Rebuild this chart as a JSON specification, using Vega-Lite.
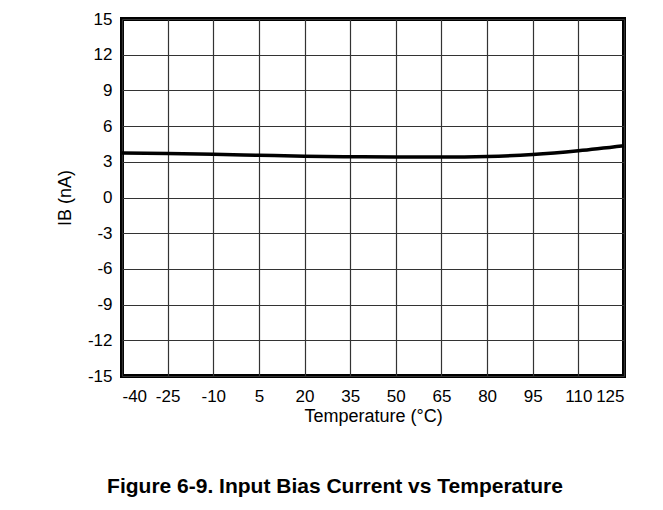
{
  "$schema": "https://vega.github.io/schema/vega-lite/v6.json",
  "width": 502,
  "height": 357,
  "autosize": {"type": "none"},
  "padding": {"left": 122, "top": 19, "right": 39, "bottom": 134},
  "background": "white",
  "data": {"values": [
    {"t": -40, "ib": 3.75},
    {"t": -25, "ib": 3.7},
    {"t": -10, "ib": 3.63},
    {"t": 5, "ib": 3.55},
    {"t": 20, "ib": 3.47},
    {"t": 35, "ib": 3.43},
    {"t": 50, "ib": 3.4},
    {"t": 65, "ib": 3.4},
    {"t": 80, "ib": 3.45},
    {"t": 95, "ib": 3.62},
    {"t": 110, "ib": 3.93},
    {"t": 125, "ib": 4.35}
  ]},
  "title": {
    "text": "Figure 6-9. Input Bias Current vs Temperature",
    "orient": "bottom",
    "anchor": "middle",
    "frame": "group",
    "dx": -38,
    "offset": 51,
    "font": "Liberation Sans",
    "fontSize": 21,
    "fontWeight": "bold",
    "color": "black"
  },
  "mark": {"type": "line", "color": "black", "strokeWidth": 3.5, "interpolate": "monotone"},
  "encoding": {
    "x": {
      "field": "t", "type": "quantitative",
      "scale": {"domain": [-40, 125], "nice": false, "zero": false},
      "axis": {
        "title": "Temperature (°C)",
        "values": [-40, -25, -10, 5, 20, 35, 50, 65, 80, 95, 110, 125],
        "labelExpr": "'' + datum.value",
        "ticks": false, "domain": false, "labelPadding": 12,
        "titlePadding": 3
      }
    },
    "y": {
      "field": "ib", "type": "quantitative",
      "scale": {"domain": [-15, 15], "nice": false, "zero": false},
      "axis": {
        "title": "IB (nA)",
        "values": [-15, -12, -9, -6, -3, 0, 3, 6, 9, 12, 15],
        "labelExpr": "'' + datum.value",
        "ticks": false, "domain": false, "labelPadding": 10,
        "titlePadding": 13
      }
    }
  },
  "config": {
    "view": {"stroke": "black", "strokeWidth": 4},
    "axis": {
      "grid": true,
      "gridColor": "#333",
      "gridWidth": 1.2,
      "gridOpacity": 1,
      "labelFont": "Liberation Sans",
      "labelFontSize": 17,
      "labelColor": "black",
      "titleFont": "Liberation Sans",
      "titleFontSize": 18,
      "titleFontWeight": "normal",
      "titleColor": "black"
    }
  }
}
